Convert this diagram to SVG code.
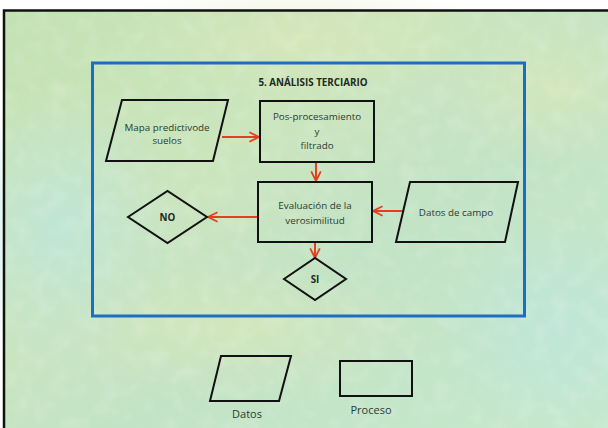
<svg xmlns="http://www.w3.org/2000/svg" width="608" height="428" viewBox="0 0 608 428">
<style>
.sh{fill:none;stroke:#111;stroke-width:2}
.t{font-family:"Open Sans","Liberation Sans",sans-serif;font-size:9.8px;fill:#2b3b33;text-anchor:middle}
.b{font-weight:bold;fill:#1e2a22}
.l{font-size:11px}
.c{stroke:#e2401e;stroke-width:2;fill:none}
</style>
<defs>
<marker id="ah" viewBox="0 0 10 10" refX="9" refY="5" markerWidth="6" markerHeight="6" orient="auto" markerUnits="strokeWidth">
<path d="M1,1 L9,5 L1,9" fill="none" stroke="#e2401e" stroke-width="1.5"/>
</marker>
<linearGradient id="bg" x1="0" y1="0" x2="1" y2="1">
<stop offset="0" stop-color="#c3e2b3"/>
<stop offset="0.35" stop-color="#cbe5bd"/>
<stop offset="0.6" stop-color="#c2e3c6"/>
<stop offset="1" stop-color="#c6e8cc"/>
</linearGradient>
<radialGradient id="y1" cx="0.5" cy="0.5" r="0.5">
<stop offset="0" stop-color="#dde8b8" stop-opacity="0.6"/>
<stop offset="1" stop-color="#dde8b8" stop-opacity="0"/>
</radialGradient>
<radialGradient id="b1" cx="0.5" cy="0.5" r="0.5">
<stop offset="0" stop-color="#bfe6dc" stop-opacity="0.8"/>
<stop offset="1" stop-color="#bfe6dc" stop-opacity="0"/>
</radialGradient>
<filter id="tex" x="0" y="0" width="100%" height="100%">
<feTurbulence type="fractalNoise" baseFrequency="0.06" numOctaves="2" seed="3" result="n"/>
<feColorMatrix in="n" type="matrix" values="0 0 0 0 1  0 0 0 0 1  0 0 0 0 1  0 0 0 -2.2 1.25" result="w"/>
<feComposite in="w" in2="SourceGraphic" operator="in"/>
</filter>
</defs>
<rect x="0" y="0" width="608" height="428" fill="#ffffff"/>
<g id="background">
<rect x="4" y="10" width="604" height="418" fill="url(#bg)"/>
<ellipse cx="300" cy="40" rx="200" ry="60" fill="url(#y1)"/>
<ellipse cx="560" cy="90" rx="120" ry="80" fill="url(#y1)"/>
<ellipse cx="240" cy="330" rx="200" ry="70" fill="url(#y1)"/>
<ellipse cx="60" cy="230" rx="120" ry="140" fill="url(#b1)"/>
<ellipse cx="560" cy="330" rx="120" ry="110" fill="url(#b1)"/>
<rect x="4" y="10" width="604" height="418" fill="#ffffff" opacity="0.15" filter="url(#tex)"/>
<path d="M4,428 L4,10.5 L608,10.5" fill="none" stroke="#111" stroke-width="2.5"/>
</g>
<g id="frame">
<rect x="92.5" y="63" width="432" height="253" fill="none" stroke="#1c6ec2" stroke-width="3"/>
<text class="t b" x="313" y="86" font-size="9.3">5.  ANÁLISIS TERCIARIO</text>
</g>
<g id="connectors">
<line class="c" x1="222" y1="137" x2="259" y2="137" marker-end="url(#ah)"/>
<line class="c" x1="316" y1="162" x2="316" y2="181" marker-end="url(#ah)"/>
<line class="c" x1="258" y1="217" x2="208" y2="217" marker-end="url(#ah)"/>
<line class="c" x1="403" y1="211" x2="373" y2="211" marker-end="url(#ah)"/>
<line class="c" x1="315" y1="242" x2="315" y2="258" marker-end="url(#ah)"/>
</g>
<g id="mapa">
<polygon class="sh" points="122,100 228,100 213,161 106,161"/>
<text class="t" x="167" y="131">Mapa predictivode</text>
<text class="t" x="167" y="144">suelos</text>
</g>
<g id="posproc">
<rect class="sh" x="260" y="101" width="114" height="61"/>
<text class="t" x="317" y="120">Pos-procesamiento</text>
<text class="t" x="317" y="135">y</text>
<text class="t" x="317" y="149">filtrado</text>
</g>
<g id="evaluacion">
<rect class="sh" x="258" y="182" width="114" height="60"/>
<text class="t" x="315" y="209">Evaluación de la</text>
<text class="t" x="315" y="224">verosimilitud</text>
</g>
<g id="datoscampo">
<polygon class="sh" points="410,182 518,182 505,242 396,242"/>
<text class="t" x="456" y="216">Datos de campo</text>
</g>
<g id="no">
<polygon class="sh" points="128,217 167.5,191 207,217 167.5,243"/>
<text class="t b" x="167.5" y="220.5">NO</text>
</g>
<g id="si">
<polygon class="sh" points="284,279 315,258 346,279 315,300"/>
<text class="t b" x="315" y="282.5">SI</text>
</g>
<g id="leg-datos">
<polygon class="sh" points="221,356 291,356 279,401 210,401"/>
<text class="t l" x="247" y="418">Datos</text>
</g>
<g id="leg-proceso">
<rect class="sh" x="340" y="361" width="72" height="35"/>
<text class="t l" x="371" y="414">Proceso</text>
</g>
</svg>
